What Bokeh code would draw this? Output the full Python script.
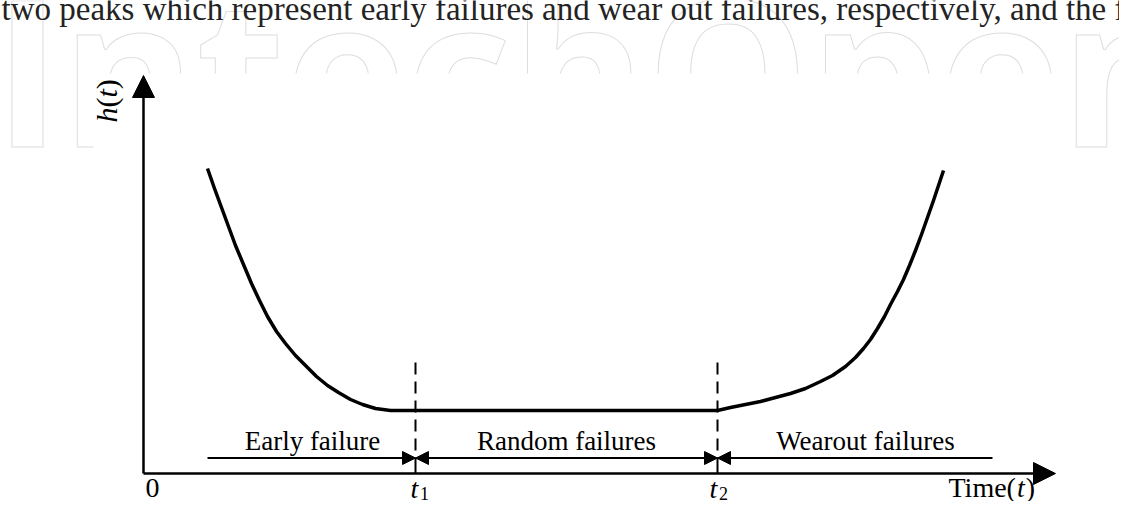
from math import pi
from bokeh.plotting import figure
from bokeh.models import Range1d, Arrow, NormalHead
from bokeh.core.properties import value
from bokeh.embed import file_html
from bokeh.resources import INLINE

# ---------------- data (time units, hazard-rate units) ----------------
curve_t = [6.4, 7.1, 7.8, 8.5, 9.2, 10.0, 10.8, 11.6, 12.4, 13.3, 14.2, 15.2, 16.2, 17.3,
           18.4, 19.5, 20.7, 21.9, 23.2, 24.7, 27.2,
           57.4, 58.7, 60.2, 61.7, 63.2, 64.7, 66.2, 67.7, 68.9, 70.2, 71.2, 72.0, 72.7,
           73.4, 74.1, 74.7, 75.4, 76.0, 76.6, 77.2, 77.8, 78.4, 79.0, 79.5, 80.0]
curve_h = [30.5, 28.5, 26.6, 24.7, 22.8, 20.9, 19.0, 17.3, 15.7, 14.2, 13.0, 11.8, 10.8, 9.7,
           8.8, 8.1, 7.4, 6.9, 6.5, 6.3, 6.3,
           6.3, 6.6, 6.9, 7.2, 7.6, 8.0, 8.5, 9.2, 9.8, 10.7, 11.6, 12.5, 13.4,
           14.5, 15.7, 16.9, 18.2, 19.4, 20.8, 22.3, 23.9, 25.6, 27.3, 28.8, 30.3]
t1 = 27.2
t2 = 57.4
phase_start = 6.4
phase_end = 84.9
phase_row = 1.55
dash_top = 11.1
x_axis_end = 91.2
y_axis_end = 39.8

phase_labels = ["Early failure", "Random failures", "Wearout failures"]
phase_label_x = [16.9, 42.3, 72.2]
phase_label_base = 2.3

top_text = "two peaks which represent early failures and wear out failures, respectively, and the fa"
watermark = "IntechOpen"

# text anchor correction: the alphabetic baseline lands ~0.37 em below the anchor
K = 0.037  # data units per px of font size


def anchor(base, fs):
    return base + K * fs


# ---------------- figure ----------------
p = figure(width=1119, height=501,
           x_range=Range1d(-14.3, 97.6), y_range=Range1d(-2.8, 47.3),
           output_backend="svg", toolbar_location=None,
           x_axis_type=None, y_axis_type=None, min_border=0)
p.outline_line_color = None
p.background_fill_color = "white"
p.border_fill_color = "white"

serif = value("Liberation Serif")

# watermark (outlined letters)
wm_fs = 205
p.text(x=[-15.0], y=[anchor(33.0, wm_fs)], text=[watermark], text_font=value("Open Sans"),
       text_font_size=f"{wm_fs}px", text_font_style="bold", text_color="white",
       text_outline_color="#dedede", text_align="left", text_baseline="alphabetic")

# white panel of the figure image
p.quad(left=[-5.0], right=[91.4], bottom=[-3.0], top=[40.0],
       fill_color="white", line_color=None)

# top paragraph line
p.text(x=[-14.2], y=[anchor(45.2, 33)], text=[top_text], text_font=serif,
       text_font_size="33px", text_color="#232323", text_align="left",
       text_baseline="alphabetic")

# bathtub curve
p.line(curve_t, curve_h, line_width=3.5, line_color="black", line_join="round")

# dashed separators and ticks
p.segment(x0=[t1, t2], y0=[dash_top, dash_top], x1=[t1, t2], y1=[phase_row, phase_row],
          line_color="black", line_width=2, line_dash="12 7")
p.segment(x0=[t1, t2], y0=[phase_row, phase_row], x1=[t1, t2], y1=[0, 0],
          line_color="black", line_width=2)

# axes with arrows
p.add_layout(Arrow(end=NormalHead(size=22, fill_color="black", line_color="black"),
                   x_start=0, y_start=0, x_end=0, y_end=y_axis_end,
                   line_width=2.5, line_color="black"))
p.add_layout(Arrow(end=NormalHead(size=22, fill_color="black", line_color="black"),
                   x_start=0, y_start=0, x_end=x_axis_end, y_end=0,
                   line_width=2.5, line_color="black"))

# phase arrows
hs = 13
p.add_layout(Arrow(end=NormalHead(size=hs, fill_color="black", line_color="black"),
                   x_start=phase_start, y_start=phase_row, x_end=t1, y_end=phase_row,
                   line_width=2, line_color="black"))
p.add_layout(Arrow(start=NormalHead(size=hs, fill_color="black", line_color="black"),
                   end=NormalHead(size=hs, fill_color="black", line_color="black"),
                   x_start=t1, y_start=phase_row, x_end=t2, y_end=phase_row,
                   line_width=2, line_color="black"))
p.add_layout(Arrow(start=NormalHead(size=hs, fill_color="black", line_color="black"), end=None,
                   x_start=t2, y_start=phase_row, x_end=phase_end, y_end=phase_row,
                   line_width=2, line_color="black"))

# phase labels
p.text(x=phase_label_x, y=[anchor(phase_label_base, 27)] * 3, text=phase_labels,
       text_font=serif, text_font_size="27px", text_color="black", text_align="center",
       text_baseline="alphabetic")

# bottom labels
p.text(x=[0.9], y=[anchor(-2.5, 28)], text=["0"], text_font=serif, text_font_size="28px",
       text_color="black", text_align="center", text_baseline="alphabetic")
p.text(x=[t1 - 0.5, t2 - 0.8], y=[anchor(-2.5, 28)] * 2, text=["t", "t"], text_font=serif,
       text_font_size="28px", text_font_style="italic", text_color="black",
       text_align="left", text_baseline="alphabetic")
p.text(x=[t1 + 0.45, t2 + 0.15], y=[anchor(-2.7, 18)] * 2, text=["1", "2"], text_font=serif,
       text_font_size="18px", text_color="black", text_align="left",
       text_baseline="alphabetic")
p.text(x=[80.5], y=[anchor(-2.4, 28)], text=["Time("], text_font=serif, text_font_size="28px",
       text_color="black", text_align="left", text_baseline="alphabetic")
p.text(x=[87.34], y=[anchor(-2.4, 28)], text=["t"], text_font=serif, text_font_size="28px",
       text_font_style="italic", text_color="black", text_align="left",
       text_baseline="alphabetic")
p.text(x=[88.22], y=[anchor(-2.4, 28)], text=[")"], text_font=serif, text_font_size="28px",
       text_color="black", text_align="left", text_baseline="alphabetic")

# rotated h(t) label (baseline to the right, reading upwards)
hx = -2.6 - K * 30
p.text(x=[hx, hx], y=[35.1, 37.6], text=["h", "t"], text_font=serif,
       text_font_size="30px", text_font_style="italic", text_color="black",
       text_align="left", text_baseline="alphabetic", angle=pi / 2)
p.text(x=[hx, hx], y=[36.6, 38.43], text=["(", ")"], text_font=serif,
       text_font_size="30px", text_color="black",
       text_align="left", text_baseline="alphabetic", angle=pi / 2)

open("out.html", "w").write(file_html(p, INLINE))
